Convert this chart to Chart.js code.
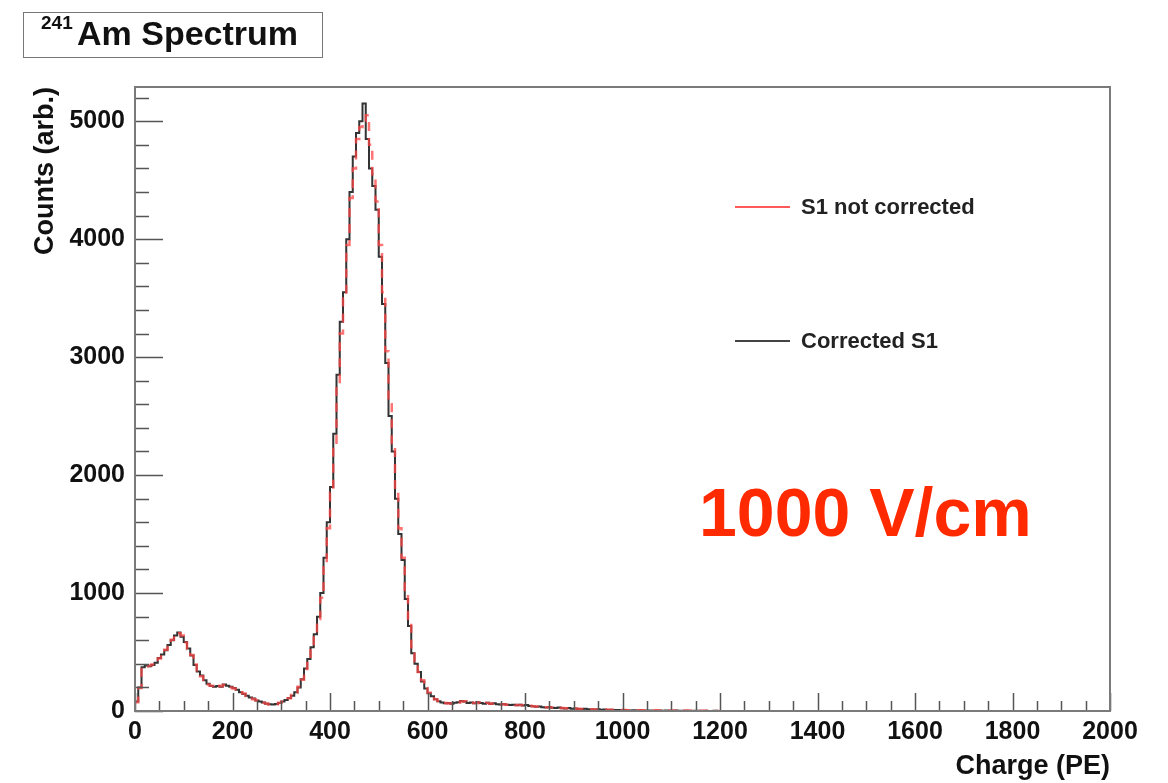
<!DOCTYPE html>
<html>
<head>
<meta charset="utf-8">
<script src="https://cdn.jsdelivr.net/npm/chart.js@4/dist/chart.umd.min.js"></script>
<style>
body{margin:0;background:#fff;font-family:"Liberation Sans",Arial,sans-serif;}
#wrap{position:relative;width:1168px;height:783px;overflow:hidden;}
canvas{position:absolute;left:0;top:0;}
.lbl{position:absolute;line-height:1;font-weight:bold;white-space:nowrap;color:#111;}
#titleBox{position:absolute;left:23px;top:12px;width:300px;height:46px;border:1.5px solid #777;box-sizing:border-box;}
.legLine{position:absolute;left:735px;width:55px;height:2px;}
</style>
</head>
<body>
<div id="wrap">
  <canvas id="chart" width="1168" height="783"></canvas>
  <div id="titleBox"></div>
  <div class="lbl" style="left:41px;top:13px;font-size:19px">241</div>
  <div class="lbl" style="left:77px;top:16px;font-size:34px">Am Spectrum</div>
  <div class="lbl" style="left:699px;top:478px;font-size:68px;color:#ff2a00">1000 V/cm</div>
  <div id="legend"></div>
</div>
<script>
// ===== DATA =====
// 300 bins over 0..2000 PE, only the first 180 bins are filled
const binWidth = 2000 / 300;

// Corrected S1 (black)
const correctedS1 = [
  80,200,370,385,380,390,410,450,480,515,
  560,600,640,665,630,585,530,470,390,335,
  300,260,230,212,205,212,205,225,215,205,
  195,180,160,145,130,115,105,90,80,72,
  62,58,56,60,68,80,93,110,130,160,
  200,270,360,440,540,650,800,1000,1300,1600,
  1900,2350,2850,3300,3550,4000,4400,4700,4900,5000,
  5150,4850,4600,4450,4250,3850,3450,2950,2500,2200,
  1800,1500,1280,950,720,490,400,330,250,190,
  150,125,100,82,72,65,68,62,70,75,
  85,80,68,72,66,74,68,62,70,60,
  66,58,55,60,52,50,54,48,52,46,
  50,42,40,36,38,32,30,33,28,26,
  29,24,22,25,20,22,18,16,19,14,
  15,12,14,10,12,9,10,8,9,7,
  8,6,5,7,4,6,5,4,5,3,
  4,5,3,4,3,2,4,3,2,3,
  2,1,2,3,1,2,1,1,2,0
];

// S1 not corrected (red dashed)
const notCorrectedS1 = [
  75,195,375,380,385,395,415,445,485,520,
  555,605,635,660,640,580,525,475,395,330,
  295,265,225,215,200,215,210,220,218,200,
  190,182,158,148,128,118,100,92,78,70,
  64,56,58,58,70,78,95,108,135,155,
  205,265,355,445,530,640,780,960,1250,1550,
  1850,2250,2750,3200,3500,3950,4350,4600,4850,4950,
  5000,5050,4800,4550,4320,3950,3550,3050,2600,2250,
  1850,1550,1300,1000,760,540,420,330,260,195,
  155,125,100,85,75,68,64,66,68,72,
  80,82,70,70,68,72,66,64,68,62,
  64,60,56,58,54,52,52,50,50,48,
  48,44,40,38,36,34,31,32,29,27,
  28,25,23,24,21,21,19,18,18,15,
  15,13,13,11,12,10,10,9,9,8,
  8,7,7,7,6,6,6,6,5,5,
  6,5,5,4,4,5,4,4,3,4,
  3,3,3,2,3,2,2,1,1,0
];

// axes and tick labels
const xMin = 0, xMax = 2000, xMinorStep = 50;
const yMin = 0, yMax = 5290, yMinorStep = 200;
const xTickValues = [0,200,400,600,800,1000,1200,1400,1600,1800,2000];
const yTickValues = [0,1000,2000,3000,4000,5000];

function toHist(values){
  let pts = values.map((v,i)=>({x:i*binWidth, y:v}));
  pts.push({x:values.length*binWidth, y:0});
  return pts;
}

// ===== FRAME + INWARD TICKS =====
const frameTicks = {
  id:"frameTicks",
  afterDatasetsDraw(chart){
    const {ctx, chartArea:a, scales:{x,y}} = chart;
    ctx.save();
    ctx.strokeStyle="#555";
    ctx.lineWidth=1.5;
    ctx.beginPath();
    for(let v=xMin; v<=xMax; v+=xMinorStep){
      let px = Math.round(x.getPixelForValue(v))+0.5;
      let len = xTickValues.includes(v) ? 18 : 10;
      ctx.moveTo(px,a.bottom); ctx.lineTo(px,a.bottom-len);
    }
    for(let v=yMin; v<=yMax; v+=yMinorStep){
      let py = Math.round(y.getPixelForValue(v))+0.5;
      let len = yTickValues.includes(v) ? 28 : 14;
      ctx.moveTo(a.left,py); ctx.lineTo(a.left+len,py);
    }
    ctx.stroke();
    ctx.strokeStyle="#7a7a7a";
    ctx.lineWidth=2;
    ctx.strokeRect(a.left,a.top,a.width,a.height);
    ctx.restore();
  }
};

const tickFont = {family:"'Liberation Sans', Arial, sans-serif", size:25, weight:"bold"};
const titleFont = {family:"'Liberation Sans', Arial, sans-serif", size:27, weight:"bold"};

const datasets = [
  {
    label:"S1 not corrected",
    data:toHist(notCorrectedS1),
    borderColor:"rgba(255,70,70,0.75)",
    legendColor:"#ff5a5a",
    borderWidth:2.5,
    borderDash:[9,7],
    stepped:"before",
    pointRadius:0,
    fill:false
  },
  {
    label:"Corrected S1",
    data:toHist(correctedS1),
    borderColor:"#333",
    legendColor:"#444",
    borderWidth:2,
    stepped:"before",
    pointRadius:0,
    fill:false
  }
];

let chart = new Chart(document.getElementById("chart").getContext("2d"),{
  type:"line",
  data:{datasets},
  options:{
    responsive:false,
    animation:false,
    layout:{padding:{top:87,right:58,left:0,bottom:0}},
    plugins:{legend:{display:false},tooltip:{enabled:false}},
    scales:{
      x:{
        type:"linear", min:xMin, max:xMax,
        afterBuildTicks(s){ s.ticks = xTickValues.map(v=>({value:v})); },
        ticks:{font:tickFont, color:"#111", padding:6, maxRotation:0, autoSkip:false, callback:v=>String(v)},
        grid:{display:false, drawTicks:false},
        border:{display:false},
        title:{display:true, text:"Charge (PE)", align:"end", font:titleFont, color:"#111", padding:{top:0,bottom:0}},
        afterFit(s){ s.height=72; }
      },
      y:{
        type:"linear", min:yMin, max:yMax,
        afterBuildTicks(s){ s.ticks = yTickValues.map(v=>({value:v})); },
        ticks:{font:tickFont, color:"#111", padding:10, autoSkip:false, callback:v=>String(v)},
        grid:{display:false, drawTicks:false},
        border:{display:false},
        title:{display:true, text:"Counts (arb.)", align:"end", font:titleFont, color:"#111", padding:{top:29,bottom:0}},
        afterFit(s){ s.width=135; }
      }
    }
  },
  plugins:[frameTicks]
});

// ===== LEGEND =====
const legendRows = [207, 341];
let legend = document.getElementById("legend");
datasets.forEach((d,i)=>{
  let y = legendRows[i];
  legend.innerHTML += `<div class="legLine" style="top:${y-1}px;background:${d.legendColor}"></div>`+
    `<div class="lbl" style="left:801px;top:${y-11}px;font-size:22px;color:#222">${d.label}</div>`;
});
</script>
</body>
</html>
